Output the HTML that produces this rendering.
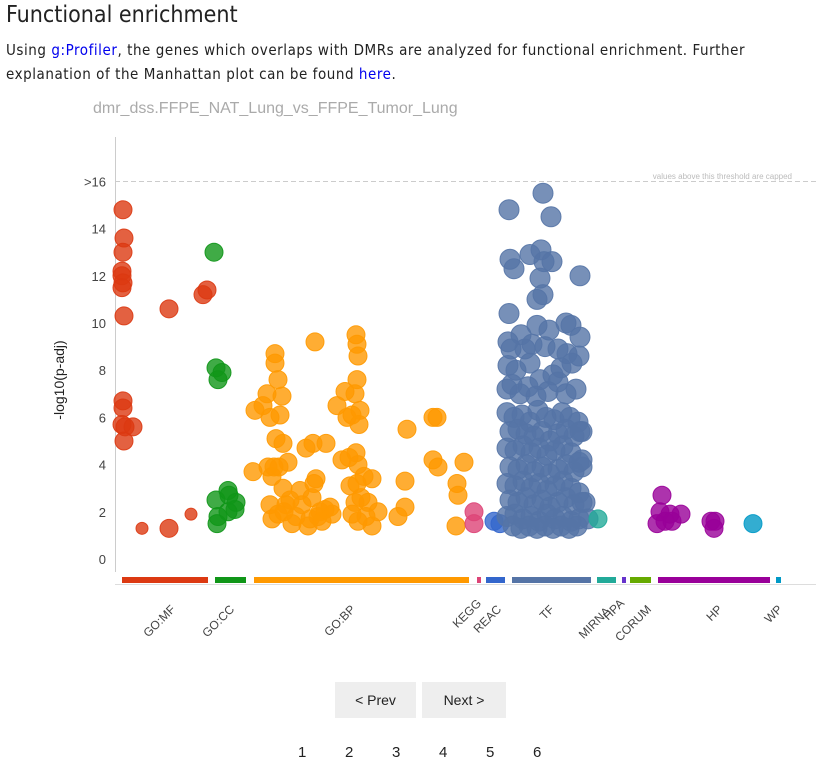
<!DOCTYPE html>
<html><head><meta charset="utf-8">
<style>
body{margin:0;background:#fff;font-family:"Liberation Sans",sans-serif;width:816px;height:768px;overflow:hidden;position:relative}
h2{position:absolute;left:6px;top:2px;margin:0;font-weight:normal;font-size:23px;color:#222;font-family:"DejaVu Sans Condensed","Liberation Sans Narrow","Liberation Sans",sans-serif}
p{position:absolute;left:6px;top:38px;margin:0;font-size:15px;line-height:24px;color:#222;width:790px;letter-spacing:0.55px;font-family:"DejaVu Sans Condensed","Liberation Sans",sans-serif}
a{color:#0000ee;text-decoration:none}
.btn{position:absolute;top:682px;height:36px;background:#eee;font-size:14px;line-height:36px;text-align:center;color:#222}
.pg{position:absolute;top:744px;font-size:15px;color:#222}
</style></head><body>
<h2>Functional enrichment</h2>
<p>Using <a href="#">g:Profiler</a>, the genes which overlaps with DMRs are analyzed for functional enrichment. Further explanation of the Manhattan plot can be found <a href="#">here</a>.</p>
<svg id="chart" width="816" height="660" style="position:absolute;left:0;top:0">
<text x="93" y="113" font-size="16" fill="#aaa">dmr_dss.FFPE_NAT_Lung_vs_FFPE_Tumor_Lung</text>
<line x1="115.5" y1="137" x2="115.5" y2="572" stroke="#ccc"/>
<line x1="115" y1="584.5" x2="816" y2="584.5" stroke="#ddd"/>
<line x1="115" y1="181.5" x2="816" y2="181.5" stroke="#ccc" stroke-dasharray="5,3"/>
<text x="792" y="179" font-size="8" fill="#bbb" text-anchor="end">values above this threshold are capped</text>
<text x="0" y="0" transform="translate(64,380) rotate(-90)" font-size="14" fill="#222" text-anchor="middle">-log10(p-adj)</text>
<g id="yt"></g><g id="bars"></g><g id="pts"></g><g id="xl"></g>
</svg>
<div class="btn" style="left:335px;width:81px">&lt; Prev</div>
<div class="btn" style="left:422px;width:84px">Next &gt;</div>
<div class="pg" style="left:298px">1</div>
<div class="pg" style="left:345px">2</div>
<div class="pg" style="left:392px">3</div>
<div class="pg" style="left:439px">4</div>
<div class="pg" style="left:486px">5</div>
<div class="pg" style="left:533px">6</div>
<script>
const sources=["GO:MF","GO:CC","GO:BP","KEGG","REAC","TF","MIRNA","HPA","CORUM","HP","WP"];
const srcStart=[7,100,139,362,371,397,482,507,515,543,661];
const srcEnd=[93,131,354,366,390,476,501,511,536,655,666];
const srcColor=["#dc3912","#109618","#ff9900","#dd4477","#3366cc","#5574a6","#22aa99","#6633cc","#66aa00","#990099","#0099c6"];
const yTicks=[0,2,4,6,8,10,12,14];
const yTickLabels=["0","2","4","6","8","10","12","14"];
const capLabel=">16";
const mfX=[8,9,8,7,7,8,7,9,8,8,7,10,18,9,27,54,76,54,88,92];
const mfY=[14.8,13.6,13.0,12.2,12.0,11.7,11.5,10.3,6.7,6.4,5.7,5.6,5.6,5.0,1.3,1.3,1.9,10.6,11.2,11.4];
const ccX=[99,101,103,107,101,103,102,113,114,121,120,113];
const ccY=[13.0,8.1,7.6,7.9,2.5,1.8,1.5,2.9,2.7,2.4,2.1,2.0];
const bpX=[140,148,152,155,160,160,163,167,165,161,168,138,153,157,159,164,168,173,171,155,157,163,169,175,177,181,185,187,191,193,195,197,199,200,201,198,203,205,207,210,211,215,217,222,227,230,232,234,235,237,241,242,243,242,240,244,245,241,243,242,237,240,243,246,249,251,253,257,257,263,283,290,292,290,318,322,318,323,342,343,341,349];
const bpY=[6.3,6.5,7.0,6.0,8.7,8.3,7.6,6.9,6.1,5.1,4.9,3.7,3.9,3.5,3.9,3.9,3.0,4.1,2.3,2.3,1.7,1.9,2.0,2.5,1.5,1.8,2.9,2.3,4.7,1.4,1.7,2.6,3.2,9.2,3.4,4.9,1.8,2.0,1.6,2.1,4.9,2.2,1.9,6.5,4.2,7.1,6.0,4.3,3.1,6.1,9.5,9.1,8.6,7.6,7.0,5.7,6.3,4.5,4.0,3.2,1.9,2.4,1.6,2.6,3.5,1.8,2.4,1.4,3.4,2.0,1.8,2.2,5.5,3.3,6.0,6.0,4.2,3.9,3.2,2.7,1.4,4.1];
const keggX=[359,359]; const keggY=[2.0,1.5];
const reacX=[379,385]; const reacY=[1.6,1.5];
const tfX=[428,394,436,395,399,415,426,429,437,465,425,422,428,394,406,422,434,451,456,465,393,396,410,417,430,443,452,464,393,401,415,425,438,446,457,392,397,405,413,421,433,443,451,461,
392,399,407,415,423,431,439,447,455,463,395,403,411,419,427,435,443,451,459,467,392,400,408,416,424,432,440,448,456,464,395,403,411,419,427,435,443,451,459,467,392,400,408,416,424,432,440,448,456,464,395,403,411,419,427,435,443,451,459,467,392,400,408,416,424,432,440,448,456,464,398,406,414,422,430,438,446,454,462,465,467,470,473];
const tfY=[15.5,14.8,14.5,12.7,12.3,12.9,13.1,12.6,12.6,12.0,11.9,11.0,11.2,10.4,9.5,9.9,9.7,10.0,9.9,9.4,9.2,8.9,8.9,9.1,9.0,8.9,8.7,8.6,8.2,8.0,8.3,7.6,7.8,8.1,8.3,7.2,7.4,7.0,7.3,6.9,7.1,7.5,7.0,7.2,
6.2,6.0,6.1,5.8,6.3,6.0,5.9,6.2,6.0,5.8,5.4,5.5,5.3,5.2,5.4,5.0,5.3,5.5,5.2,5.4,4.7,4.6,4.8,4.5,4.7,4.4,4.6,4.8,4.5,4.1,3.9,3.8,4.0,3.7,3.9,3.6,3.8,4.0,3.7,3.9,3.2,3.1,3.3,3.0,3.2,2.9,3.1,3.3,3.0,2.8,2.5,2.4,2.6,2.3,2.5,2.2,2.4,2.6,2.3,2.4,1.8,1.9,1.7,1.8,1.6,1.9,1.7,1.8,1.6,1.7,1.4,1.3,1.4,1.3,1.4,1.3,1.4,1.3,1.4,5.4,4.2,2.4,1.7];
const mirX=[483]; const mirY=[1.7];
const hpX=[547,545,542,550,555,557,566,596,600,599]; const hpY=[2.7,2.0,1.5,1.6,1.9,1.6,1.9,1.6,1.6,1.3];
const wpX=[638]; const wpY=[1.5];
const series=[[mfX,mfY,0],[ccX,ccY,1],[bpX,bpY,2],[keggX,keggY,3],[reacX,reacY,4],[tfX,tfY,5],[mirX,mirY,6],[hpX,hpY,9],[wpX,wpY,10]];
const smallIdx={0:[14,16]};
const ns="http://www.w3.org/2000/svg";
function xS(i){return 115+i;}
function yS(v){return 559-v*23.6;}
function mk(t,a,p){const e=document.createElementNS(ns,t);for(const k in a)e.setAttribute(k,a[k]);p.appendChild(e);return e;}
const yt=document.getElementById('yt');
yTicks.forEach((v,i)=>{const t=mk('text',{x:106,y:yS(v)+5,'font-size':13,fill:'#444','text-anchor':'end'},yt);t.textContent=yTickLabels[i];

});
const cap=mk('text',{x:106,y:yS(16)+5,'font-size':13,fill:'#444','text-anchor':'end'},yt);cap.textContent=capLabel;


const bars=document.getElementById('bars'),xl=document.getElementById('xl');
sources.forEach((s,i)=>{const r=mk('rect',{x:xS(srcStart[i]),y:577,width:xS(srcEnd[i])-xS(srcStart[i]),height:6,fill:srcColor[i]},bars);


});
const lblPos=[[176,610],[235,610],[356,610],[482,604],[502,610],[555,610],[611,612],[625,604],[652,610],[723,610],[783,610]];
sources.forEach((s,i)=>{const [x,y]=lblPos[i];const t=mk('text',{x:x,y:y,'font-size':12,fill:'#444','text-anchor':'end',transform:`rotate(-45 ${x} ${y})`},xl);t.textContent=s;

});
const pts=document.getElementById('pts');
series.forEach(([xs,ys,ci])=>{xs.forEach((x,j)=>{let r=ci==5?10:9;if(smallIdx[ci]&&smallIdx[ci].includes(j))r=6;
const c=mk('circle',{cx:xS(x),cy:yS(ys[j]),r:r,fill:srcColor[ci],'fill-opacity':0.8,stroke:srcColor[ci],'stroke-opacity':0.9,'stroke-width':1},pts);

});});
</script>
</body></html>
